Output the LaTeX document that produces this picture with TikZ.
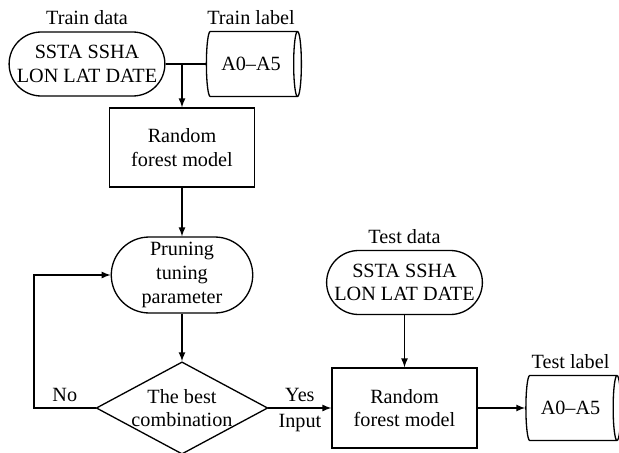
\documentclass[tikz,border=0pt]{standalone}
\usepackage{fontspec}
\setmainfont{Liberation Serif}
\usepackage{tikz}
\tikzset{>=latex}
\usetikzlibrary{shapes.misc}
\usetikzlibrary{shapes.geometric}
\usetikzlibrary{calc}
\tikzset{
    every node/.style = {font=\fontsize{11.5}{13.5}\selectfont, align=center},
    datanode/.style = {draw, rounded rectangle, minimum width=2.88cm, minimum height=1.28cm, inner sep=1pt},
    labelnode/.style = {draw, cylinder, aspect=0.45, minimum width=1.3cm, minimum height=1.9cm, inner sep=1pt},
    modelnode/.style = {draw, rectangle, minimum width=2.9cm, minimum height=1.58cm},
    choicenode/.style = {draw, diamond, aspect=1.86, minimum width=3.34cm, minimum height=1.8cm, inner sep=0pt}
}

\begin{document}
\begin{tikzpicture}[x=0.02cm, y=-0.02cm, line width=0.75pt]
            \useasboundingbox (0, 0) rectangle (619, 453);
            % training side
            \node[datanode, label={above:Train data}] (traindata) at (87, 64) {SSTA SSHA\\LON LAT DATE};
            \node[labelnode, label={above:Train label}] (trainlabel) at (251, 64) {A0--A5};
            \node[modelnode] (forest1) at (182, 147.5) {Random\\forest model};
            \node[datanode, minimum width=2.9cm, minimum height=1.52cm] (pruning) at (182, 275) {Pruning\\tuning\\parameter};
            \node[choicenode] (best) at (182, 408) {The best\\combination};
            \coordinate (junction) at (182, 64);
            \coordinate (loopback) at (34, 408);
            % test side
            \node[datanode, minimum width=2.9cm, label={above:Test data}] (testdata) at (404.5, 282.5) {SSTA SSHA\\LON LAT DATE};
            \node[modelnode, minimum height=1.6cm] (forest2) at (404.5, 408) {Random\\forest model};
            \node[labelnode, label={above:Test label}] (testlabel) at (570.5, 408) {A0--A5};
            % connectors
            \draw (traindata.east) -- (trainlabel.west);
            \draw[->] (junction) -- (forest1.north);
            \draw[->] (forest1.south) -- (pruning.north);
            \draw[->] (pruning.south) -- (best.north);
            \draw[->] (best.west) -- node[above] {No} (loopback) |- (pruning.west);
            \draw[->] (best.east) -- node[above] {Yes} node[below] {Input} (forest2.west);
            \draw[->] (testdata.south) -- (forest2.north);
            \draw[->] (forest2.east) -- (testlabel.west);
        \end{tikzpicture}
\end{document}
